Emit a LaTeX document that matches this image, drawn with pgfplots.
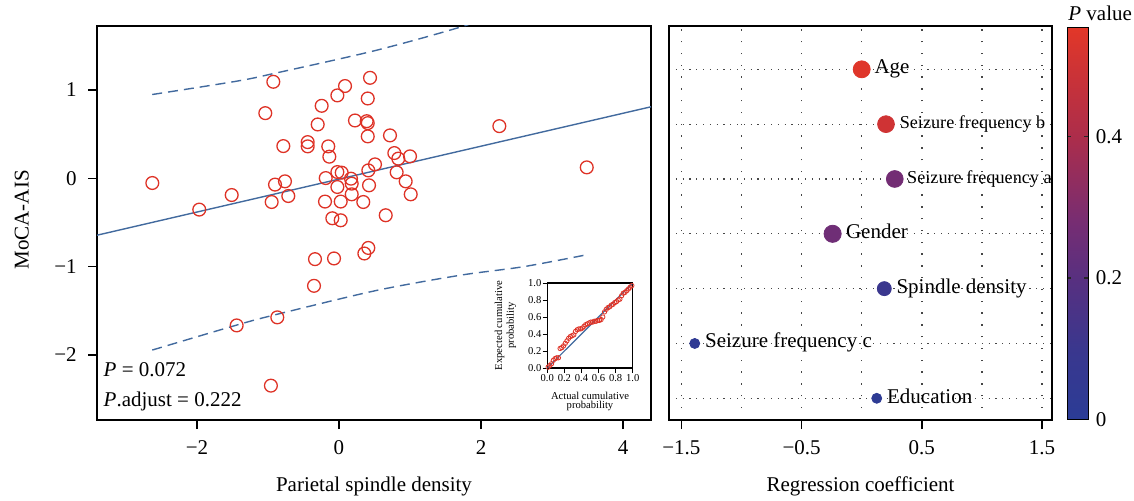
\documentclass[border=0pt]{standalone}
\usepackage{fontspec}
\setmainfont{Liberation Serif}
\usepackage{pgfplots}
\pgfplotsset{compat=1.18}
\usepackage{pgfplotstable}
\definecolor{ptred}{RGB}{222,50,38}
\definecolor{lineblue}{RGB}{66,106,158}
\definecolor{griddot}{RGB}{70,70,70}

\pgfplotstableread{
x y
-0.925 1.093
0.085 1.045
-0.023 0.939
0.437 1.138
0.405 0.904
-0.244 0.821
-1.038 0.738
-0.300 0.610
0.225 0.655
0.390 0.647
0.405 0.625
0.405 0.475
-0.784 0.365
-0.441 0.410
-0.441 0.362
-0.151 0.362
-0.136 0.245
0.507 0.158
-2.629 -0.053
-1.511 -0.189
-1.968 -0.354
-0.901 -0.071
-0.761 -0.034
-0.714 -0.200
-0.948 -0.268
-0.187 0.003
-0.023 0.071
0.038 0.064
0.169 -0.004
0.179 -0.060
-0.023 -0.098
0.413 0.090
0.423 -0.079
0.179 -0.181
-0.197 -0.263
0.024 -0.263
0.342 -0.268
-0.094 -0.452
0.024 -0.475
0.718 0.486
2.258 0.591
0.779 0.286
0.835 0.223
1.000 0.249
0.812 0.068
0.939 -0.034
1.010 -0.181
0.658 -0.418
3.489 0.124
0.413 -0.788
0.357 -0.851
-0.338 -0.915
-0.070 -0.907
-0.352 -1.217
-0.869 -1.574
-1.441 -1.665
-0.959 -2.347
}\scatterdata

\pgfplotstableread{
x y
0.01 0.01
0.03 0.03
0.05 0.05
0.07 0.09
0.09 0.11
0.11 0.12
0.13 0.12
0.15 0.23
0.17 0.24
0.19 0.26
0.21 0.29
0.23 0.32
0.25 0.35
0.27 0.37
0.29 0.38
0.31 0.39
0.33 0.43
0.35 0.45
0.37 0.46
0.39 0.46
0.41 0.47
0.43 0.49
0.45 0.51
0.47 0.52
0.49 0.53
0.51 0.54
0.53 0.54
0.55 0.55
0.57 0.55
0.59 0.56
0.61 0.56
0.63 0.57
0.65 0.60
0.67 0.66
0.69 0.69
0.71 0.71
0.73 0.72
0.75 0.74
0.77 0.75
0.79 0.77
0.81 0.78
0.83 0.80
0.85 0.81
0.87 0.85
0.89 0.88
0.91 0.89
0.93 0.91
0.95 0.93
0.97 0.95
0.99 0.97
}\ppdata

\pgfplotstableread{
x y p s
0.000 7 0.545 4.25
0.202 6 0.500 4.2
0.275 5 0.270 4.2
-0.242 4 0.260 4.3
0.188 3 0.100 3.5
-1.389 2 0.030 2.5
0.125 1 0.020 2.5
}\coefdata

\begin{document}
\fontsize{10.5}{12.6}\selectfont
\begin{tikzpicture}[x=1pt,y=1pt]
% ---------------- left panel ----------------
\begin{axis}[
  at={(48.5pt,40pt)}, anchor=south west, scale only axis,
  width=277pt, height=197pt,
  xmin=-3.408, xmax=4.394, ymin=-2.736, ymax=1.7246,
  xtick={-2,0,2,4}, xticklabels={−2,0,2,4},
  ytick={-2,-1,0,1}, yticklabels={−2,−1,0,1},
  tick align=outside, major tick length=4.5pt,
  xtick pos=bottom, ytick pos=left,
  xticklabel style={yshift=-2pt},
  yticklabel style={xshift=-2pt},
  axis line style={line width=0.7pt},
  every tick/.style={line width=0.7pt, black},
  xlabel={Parietal spindle density}, ylabel={MoCA-AIS},
  xlabel style={at={(axis description cs:0.5,-0.169)}, anchor=center},
  ylabel style={at={(axis description cs:-0.136,0.508)}, anchor=center},
]
\addplot[only marks, mark=o, mark size=3.2pt, draw=ptred, mark options={line width=0.65pt}] table[x=x,y=y] {\scatterdata};
\addplot[lineblue, line width=0.7pt] coordinates {(-3.408,-0.644) (4.394,0.81)};
\addplot[lineblue, line width=0.7pt, dash pattern=on 5pt off 3pt, smooth] coordinates {(-2.63,0.949) (-1.44,1.10) (-0.90,1.19) (0.507,1.446) (1.70,1.71) (2.6,1.95) (3.51,2.15)};
\addplot[lineblue, line width=0.7pt, dash pattern=on 5pt off 3pt, smooth] coordinates {(-2.63,-1.944) (-1.44,-1.661) (-0.90,-1.545) (0.507,-1.273) (1.70,-1.098) (2.6,-1.0) (3.51,-0.862)};
\node[anchor=base west, inner sep=0] at (rel axis cs:0.0114,0.1099) {\textit{P} = 0.072};
\node[anchor=base west, inner sep=0] at (rel axis cs:0.0114,0.0338) {\textit{P}.adjust = 0.222};
\end{axis}
% ---------------- inset ----------------
\begin{axis}[
  at={(273.65pt,66pt)}, anchor=south west, scale only axis,
  width=42.7pt, height=42.5pt,
  xmin=0, xmax=1, ymin=0, ymax=1,
  axis background/.style={fill=white},
  xtick={0,0.2,0.4,0.6,0.8,1}, xticklabels={0.0,0.2,0.4,0.6,0.8,1.0},
  ytick={0,0.2,0.4,0.6,0.8,1}, yticklabels={0.0,0.2,0.4,0.6,0.8,1.0},
  tick align=outside, major tick length=2.3pt,
  xtick pos=bottom, ytick pos=left,
  axis line style={line width=0.6pt},
  every tick/.style={line width=0.5pt, black},
  every tick label/.append style={font=\fontsize{5.3}{6}\selectfont, inner sep=0.5pt},
  xlabel={Actual cumulative\\probability}, ylabel={Expected cumulative\\probability},
  xlabel style={font=\fontsize{5.3}{4.4}\selectfont, align=center, at={(axis description cs:0.5,-0.39)}, anchor=center},
  ylabel style={font=\fontsize{5.3}{4.6}\selectfont, align=center, at={(axis description cs:-0.49,0.5)}, anchor=center},
]
\addplot[lineblue, line width=0.6pt] coordinates {(0,0) (1,1)};
\addplot[only marks, mark=o, mark size=1.1pt, draw=ptred, mark options={line width=0.4pt}] table[x=x,y=y] {\ppdata};
\end{axis}
% ---------------- right panel ----------------
\begin{axis}[
  at={(334.5pt,40pt)}, anchor=south west, scale only axis,
  width=191.5pt, height=197pt,
  xmin=-1.603, xmax=1.583, ymin=0.604, ymax=7.79,
  xtick={-1.5,-0.5,0.5,1.5}, xticklabels={−1.5,−0.5,0.5,1.5},
  minor xtick={-1,0,1}, minor tick length=0pt,
  ytick={1,2,3,4,5,6,7}, yticklabels={},
  ytick style={draw=none},
  xmajorgrids, xminorgrids, ymajorgrids,
  major x grid style={griddot, line width=0.7pt, dash pattern=on 0.7pt off 5.2pt},
  minor x grid style={griddot, line width=0.7pt, dash pattern=on 0.7pt off 5.2pt},
  major y grid style={griddot, line width=0.6pt, dash pattern=on 0.6pt off 2.8pt},
  tick align=outside, major tick length=4.5pt,
  xtick pos=bottom, ytick pos=left,
  xticklabel style={yshift=-2pt},
  axis line style={line width=0.7pt},
  xtick style={line width=0.7pt, black},
  xlabel={Regression coefficient},
  xlabel style={at={(axis description cs:0.5,-0.169)}, anchor=center},
  colormap={pval}{rgb255(0)=(43,60,150) rgb255(18)=(58,55,142) rgb255(36)=(88,48,128) rgb255(50)=(118,45,115) rgb255(72)=(172,45,75) rgb255(100)=(226,55,40)},
  point meta min=0, point meta max=0.555,
  colorbar,
  colorbar style={
    at={(parent axis.north east)}, anchor=north west, xshift=-0.835pt, yshift=-0.6pt,
    scale only axis, width=10.5pt, height=196pt,
    ytick={0,0.2,0.4}, yticklabels={0,0.2,0.4},
    tick align=inside, major tick length=2pt,
    ytick pos=both, yticklabel pos=right,
    ytick style={draw=black!85, line width=0.6pt},
    axis line style={line width=0.6pt},
  },
]
\addplot[scatter, only marks, mark=*, point meta=explicit,
  scatter/use mapped color={draw=mapped color, fill=mapped color},
  visualization depends on={\thisrow{s} \as \msize},
  scatter/@pre marker code/.append style={/tikz/mark size=\msize}]
  table[x=x, y=y, meta=p] {\coefdata};
\node[anchor=base west, inner sep=0, xshift=6.2pt, yshift=-2.2pt] at (axis cs:0.000,7) {Age};
\node[anchor=base west, inner sep=0, xshift=6.7pt, yshift=-2.2pt, font=\fontsize{9.1}{11}\selectfont] at (axis cs:0.202,6) {Seizure frequency b};
\node[anchor=base west, inner sep=0, xshift=6.0pt, yshift=-2.2pt, font=\fontsize{9.1}{11}\selectfont] at (axis cs:0.275,5) {Seizure frequency a};
\node[anchor=base west, inner sep=0, xshift=6.5pt, yshift=-2.2pt] at (axis cs:-0.242,4) {Gender};
\node[anchor=base west, inner sep=0, xshift=5.9pt, yshift=-2.2pt] at (axis cs:0.188,3) {Spindle density};
\node[anchor=base west, inner sep=0, xshift=5.0pt, yshift=-2.2pt] at (axis cs:-1.389,2) {Seizure frequency c};
\node[anchor=base west, inner sep=0, xshift=5.0pt, yshift=-2.5pt] at (axis cs:0.125,1) {Education};
\end{axis}
\node[anchor=base west, inner sep=0] at (534pt,240pt) {\textit{P} value};
\pgfresetboundingbox
\path[use as bounding box] (0,0) rectangle (567pt,250pt);
\end{tikzpicture}
\end{document}
